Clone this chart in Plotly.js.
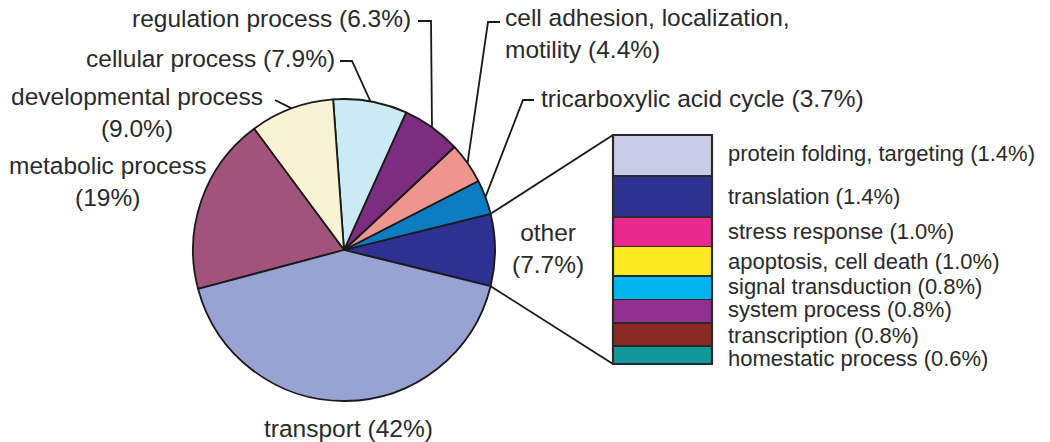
<!DOCTYPE html>
<html><head><meta charset="utf-8">
<script src="https://cdn.plot.ly/plotly-3.0.1.min.js"></script>
<style>html,body{margin:0;padding:0;background:#fff}#chart{width:1050px;height:442px}</style>
</head><body><div id="chart"></div>
<script>
// ---- data ----
const pieLabels = ['other', 'tricarboxylic acid cycle', 'cell adhesion, localization, motility',
  'regulation process', 'cellular process', 'developmental process', 'metabolic process', 'transport'];
const pieValues = [7.7, 3.7, 4.4, 6.3, 7.9, 9.0, 19, 42];
const pieColors = ['#2e3192', '#0e7cc1', '#ef9590', '#7b2e80', '#cbeaf5', '#f8f4d3', '#a1547b', '#98a3d3'];

const otherLabels = ['protein folding, targeting', 'translation', 'stress response', 'apoptosis, cell death',
  'signal transduction', 'system process', 'transcription', 'homestatic process'];
const otherValues = [1.4, 1.4, 1.0, 1.0, 0.8, 0.8, 0.8, 0.6];
const otherColors = ['#c8cce6', '#2e3192', '#e8298e', '#fde91f', '#03b5ee', '#902f8d', '#8a2a22', '#12989b'];

// ---- layout helpers ----
const W = 1050, H = 442;
const PX = x => x / W, PY = y => 1 - y / H;
const pieCx = 344, pieCy = 250, pieR = 151;
const barX0 = 613, barX1 = 712, barY0 = 135, barY1 = 364;
const FONT = 'Liberation Sans, Arial, Helvetica, sans-serif';
const TXT = '#2a2a2a';
const barLabelShift = [2, 0, 0, 0, 1, 2, -1, -3];

const fmt = v => (v >= 10 ? v.toFixed(0) : v.toFixed(1)) + '%';
const total = pieValues.reduce((a, b) => a + b, 0);
const half = pieValues[0] / total * 180;          // other slice is centred on 3 o'clock
const midAngle = [];
let cum = 0;
pieValues.forEach((v, i) => {
  if (i === 0) { midAngle.push(0); return; }
  midAngle.push(half + (cum + v / 2) / total * 360);
  cum += v;
});
const onPie = (deg, rr) => {
  const a = deg * Math.PI / 180, r = rr || pieR;
  return [pieCx + r * Math.cos(a), pieCy - r * Math.sin(a)];
};
const path = pts => pts.map((p, i) => (i ? 'L' : 'M') + PX(p[0]).toFixed(5) + ',' + PY(p[1]).toFixed(5)).join(' ');

const traces = [];
traces.push({
  type: 'pie', labels: pieLabels, values: pieValues, sort: false,
  direction: 'counterclockwise', rotation: 90 - half,
  marker: { colors: pieColors, line: { color: '#1a1a1a', width: 1.8 } },
  textinfo: 'none', hoverinfo: 'label+percent', showlegend: false,
  domain: { x: [PX(pieCx - pieR), PX(pieCx + pieR)], y: [PY(pieCy + pieR), PY(pieCy - pieR)] }
});
otherLabels.forEach((lab, i) => {
  traces.push({
    type: 'bar', x: [0], y: [otherValues[i]], width: 1, name: lab, showlegend: false,
    marker: { color: otherColors[i], line: { color: '#2a2a2a', width: 1.8 } },
    xaxis: 'x', yaxis: 'y', hoverinfo: 'name+y'
  });
});
const otherTotal = otherValues.reduce((a, b) => a + b, 0);

const annFont = { family: FONT, size: 24.5, color: TXT };
const barFont = { family: FONT, size: 22, color: TXT };
const ann = (t, x, y, xa, align) => ({ text: t, xref: 'paper', yref: 'paper', x: PX(x), y: PY(y),
  xanchor: xa, yanchor: 'middle', align: align || xa, showarrow: false, font: annFont });

const L = i => pieLabels[i] + ' (' + fmt(pieValues[i]) + ')';
const annotations = [
  ann(L(3), 413, 19, 'right'),
  ann(L(4), 337, 59, 'right'),
  ann('developmental process<br>(' + fmt(pieValues[5]) + ')', 137, 113, 'center'),
  ann('metabolic process<br>(' + fmt(pieValues[6]) + ')', 107, 181, 'center'),
  ann(L(7), 348, 428, 'center'),
  ann('cell adhesion, localization,<br>motility (' + fmt(pieValues[2]) + ')', 503, 34, 'left'),
  ann(L(1), 539, 98, 'left'),
  ann('other<br>(' + fmt(pieValues[0]) + ')', 548, 248, 'center')
];
let c = 0;
otherLabels.forEach((lab, i) => {
  annotations.push({ text: lab + ' (' + fmt(otherValues[i]) + ')', xref: 'paper', yref: 'y',
    x: PX(727), y: c + otherValues[i] / 2, yshift: barLabelShift[i], borderpad: 0,
    xanchor: 'left', yanchor: 'middle', showarrow: false, font: barFont });
  c += otherValues[i];
});

const line = { color: '#1a1a1a', width: 1.8 };
const shp = pts => ({ type: 'path', xref: 'paper', yref: 'paper', path: path(pts), line: line });
const shapes = [
  shp([[418, 21], [431, 21], onPie(midAngle[3])]),
  shp([[340, 61], [352, 61], onPie(midAngle[4])]),
  shp([[275, 100], onPie(midAngle[5])]),
  shp([[500, 22], [488, 22], onPie(midAngle[2])]),
  shp([[534, 100], [523, 100], onPie(midAngle[1])]),
  shp([onPie(half), [barX0, barY0]]),
  shp([onPie(-half), [barX0, barY1]]),
  { type: 'rect', xref: 'paper', yref: 'paper', x0: PX(barX0), x1: PX(barX1), y0: PY(barY1), y1: PY(barY0),
    line: { color: '#2a2a2a', width: 2.2 }, fillcolor: 'rgba(0,0,0,0)' }
];

const layout = {
  width: W, height: H, margin: { l: 0, r: 0, t: 0, b: 0 },
  paper_bgcolor: '#fff', plot_bgcolor: 'rgba(0,0,0,0)',
  barmode: 'stack', bargap: 0,
  xaxis: { domain: [PX(barX0), PX(barX1)], range: [-0.5, 0.5], visible: false, fixedrange: true },
  yaxis: { domain: [PY(barY1), PY(barY0)], range: [otherTotal, 0], visible: false, fixedrange: true },
  annotations: annotations, shapes: shapes, showlegend: false
};
Plotly.newPlot('chart', traces, layout, { displayModeBar: false, staticPlot: true });
</script>
</body></html>
